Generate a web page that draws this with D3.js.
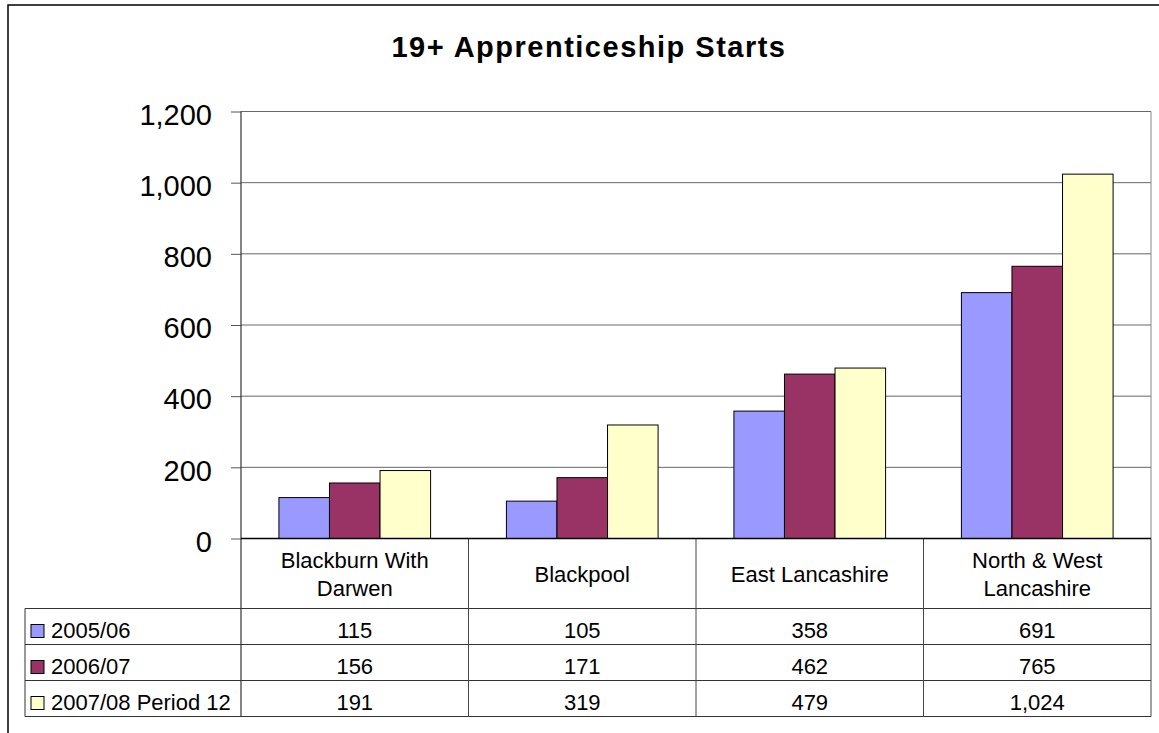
<!DOCTYPE html>
<html>
<head>
<meta charset="utf-8">
<script src="https://cdn.jsdelivr.net/npm/d3@7"></script>
<style>
	body { margin: 0; background: #fff; }
	svg { display: block; font-family: Arial, "Liberation Sans", sans-serif; }
</style>
</head>
<body>
<svg id="chart" width="1159" height="733"></svg>
<script>
// data
var categories = ['Blackburn With Darwen', 'Blackpool', 'East Lancashire', 'North & West Lancashire'];
var categoryLines = [['Blackburn With', 'Darwen'], ['Blackpool'], ['East Lancashire'], ['North & West', 'Lancashire']];
var seriesNames = ['2005/06', '2006/07', '2007/08 Period 12'];
var values0506 = [115, 105, 358, 691];
var values0607 = [156, 171, 462, 765];
var values0708 = [191, 319, 479, 1024];
var yTicks = [0, 200, 400, 600, 800, 1000, 1200];
var colors = ['#9999ff', '#993366', '#ffffcc'];

(function () {
	var seriesValues = [values0506, values0607, values0708];

	var svg = d3.select('#chart'),
		plotLeft = 241, plotRight = 1151,
		plotTop = 111.5, plotBottom = 538.5,
		tableLeft = 25, catRowBottom = 608.5, rowH = 36,
		tableFont = 22;

	// outer chart frame (runs off the right/bottom of the picture)
	svg.append('rect')
		.attr('x', 8).attr('y', 5)
		.attr('width', 1160).attr('height', 740)
		.attr('fill', 'none').attr('stroke', '#000').attr('stroke-width', 1.5);

	svg.append('text')
		.attr('x', 589).attr('y', 57)
		.attr('text-anchor', 'middle')
		.attr('font-size', 29).attr('font-weight', 'bold')
		.attr('letter-spacing', 1.5)
		.text('19+ Apprenticeship Starts');

	var x = d3.scaleBand().domain(categories).range([plotLeft, plotRight]).padding(0);
	var xs = d3.scaleBand().domain(seriesNames).range([0, x.bandwidth()])
		.paddingInner(0).paddingOuter(0.75);
	var y = d3.scaleLinear().domain([0, 1200]).range([plotBottom, plotTop]);

	// gridlines
	svg.append('g').selectAll('line')
		.data(yTicks.slice(1))
		.enter().append('line')
		.attr('x1', plotLeft).attr('x2', plotRight)
		.attr('y1', function (d) { return y(d); })
		.attr('y2', function (d) { return y(d); })
		.attr('stroke', '#666').attr('stroke-width', 1);

	// right edge of plot area
	svg.append('line')
		.attr('x1', plotRight).attr('x2', plotRight).attr('y1', plotTop).attr('y2', plotBottom)
		.attr('stroke', '#888');

	// bars
	seriesNames.forEach(function (name, si) {
		svg.append('g').selectAll('rect')
			.data(seriesValues[si])
			.enter().append('rect')
			.attr('x', function (d, i) { return x(categories[i]) + xs(name); })
			.attr('y', function (d) { return y(d); })
			.attr('width', xs.bandwidth())
			.attr('height', function (d) { return y(0) - y(d); })
			.attr('fill', colors[si])
			.attr('stroke', '#000').attr('stroke-width', 1);
	});

	// y axis
	var yAxis = svg.append('g')
		.attr('transform', 'translate(' + plotLeft + ',0)')
		.call(d3.axisLeft(y).tickValues(yTicks).tickFormat(d3.format(','))
			.tickSize(10).tickSizeOuter(0).tickPadding(19));
	yAxis.select('.domain').remove();
	yAxis.selectAll('.tick line').attr('stroke', '#555');
	yAxis.selectAll('.tick text')
		.attr('font-size', 29).attr('font-family', 'Arial, "Liberation Sans", sans-serif')
		.attr('fill', '#000').attr('dy', '0.44em');

	var tableBottom = catRowBottom + rowH * 3;

	// axis line continues down through the table
	svg.append('line')
		.attr('x1', plotLeft).attr('x2', plotLeft).attr('y1', plotTop).attr('y2', tableBottom)
		.attr('stroke', '#333').attr('stroke-width', 1.2);

	// data table
	var table = svg.append('g').attr('class', 'data-table');

	// category row bottom and value row separators
	[catRowBottom, catRowBottom + rowH, catRowBottom + rowH * 2, tableBottom].forEach(function (ly) {
		table.append('line')
			.attr('x1', tableLeft).attr('x2', plotRight).attr('y1', ly).attr('y2', ly)
			.attr('stroke', '#333').attr('stroke-width', 1);
	});
	table.append('line')
		.attr('x1', tableLeft).attr('x2', tableLeft).attr('y1', catRowBottom).attr('y2', tableBottom)
		.attr('stroke', '#333');

	// column dividers
	table.selectAll('line.col')
		.data(categories.slice(1).concat(['__end']))
		.enter().append('line')
		.attr('class', 'col')
		.attr('x1', function (d) { return d === '__end' ? plotRight : x(d); })
		.attr('x2', function (d) { return d === '__end' ? plotRight : x(d); })
		.attr('y1', plotBottom).attr('y2', tableBottom)
		.attr('stroke', '#444');

	// x axis line at zero
	svg.append('line')
		.attr('x1', plotLeft).attr('x2', plotRight).attr('y1', y(0)).attr('y2', y(0))
		.attr('stroke', '#000').attr('stroke-width', 1.5);

	// category labels
	categories.forEach(function (c, i) {
		var lines = categoryLines[i],
			cy = (plotBottom + catRowBottom) / 2,
			lh = 28,
			t = table.append('text')
				.attr('x', x(c) + x.bandwidth() / 2)
				.attr('text-anchor', 'middle')
				.attr('font-size', tableFont);
		lines.forEach(function (ln, li) {
			t.append('tspan')
				.attr('x', x(c) + x.bandwidth() / 2)
				.attr('y', cy + (li - (lines.length - 1) / 2) * lh + 8.5)
				.text(ln);
		});
	});

	// value rows with legend keys
	seriesNames.forEach(function (name, si) {
		var rowTop = catRowBottom + rowH * si,
			mid = rowTop + rowH / 2;

		table.append('rect')
			.attr('x', 31).attr('y', mid - 2)
			.attr('width', 13).attr('height', 13)
			.attr('fill', colors[si]).attr('stroke', '#000').attr('stroke-width', 1);

		table.append('text')
			.attr('x', 51).attr('y', mid + 11)
			.attr('font-size', tableFont)
			.text(name);

		seriesValues[si].forEach(function (v, i) {
			table.append('text')
				.attr('x', x(categories[i]) + x.bandwidth() / 2)
				.attr('y', mid + 11)
				.attr('text-anchor', 'middle')
				.attr('font-size', tableFont)
				.text(d3.format(',')(v));
		});
	});
})();
</script>
</body>
</html>
